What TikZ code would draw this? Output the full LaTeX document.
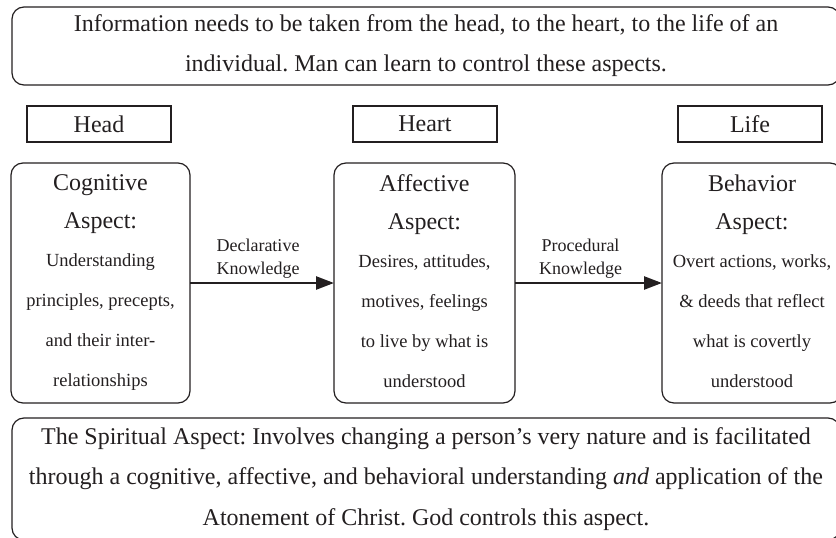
\documentclass[tikz,border=0pt]{standalone}
\usepackage{fontspec}
\setmainfont{Liberation Serif}
\usetikzlibrary{arrows.meta}
\definecolor{ink}{HTML}{231F20}
\frenchspacing
\begin{document}
\begin{tikzpicture}[x=1pt,y=-1pt,
  every node/.style={text=ink, inner sep=0pt, outer sep=0pt},
  panel/.style={draw=ink, line width=1.2pt, rounded corners=12pt, align=center},
  tag/.style={draw=ink, line width=2.6pt, minimum width=144pt, minimum height=36pt,
    font=\fontsize{24}{28}\selectfont},
  aspect/.style={panel, minimum width=179pt, minimum height=240pt,
    font=\fontsize{18.5}{40}\selectfont},
  flow/.style={draw=ink, line width=2.5pt, -{Triangle[length=18pt,width=13pt]}},
  flowlabel/.style={font=\fontsize{18}{23}\selectfont, align=center, above=5pt}
]
\useasboundingbox (0,0) rectangle (836,538);
\clip (0,0) rectangle (836,538);

% introduction banner
\node[panel, minimum width=828pt, minimum height=78pt, font=\fontsize{24}{40}\selectfont]
  (intro) at (426,46)
  {Information needs to be taken from the head, to the heart, to the life of an\\
   individual. Man can learn to control these aspects.};

% head / heart / life tags
\node[tag] (head)  at (99,124)  {Head};
\node[tag] (heart) at (425,124) {Heart};
\node[tag] (life)  at (750,124) {Life};

% the three aspects (a phantom descender keeps the last lines level)
\node[aspect] (cog) at (100.5,283)
  {{\fontsize{24}{40}\selectfont Cognitive}\\[-2pt]
   {\fontsize{24}{40}\selectfont Aspect:}\\[-2pt]
   Understanding\\principles, precepts,\\and their inter-\\relationships};
\node[aspect, minimum width=181pt] (aff) at (424.5,283)
  {{\fontsize{24}{40}\selectfont Affective}\\[-2pt]
   {\fontsize{24}{40}\selectfont Aspect:}\\[-2pt]
   Desires, attitudes,\\motives, feelings\\to live by what is\\understood\vphantom{p}};
\node[aspect, minimum width=180pt] (beh) at (752,283)
  {{\fontsize{24}{40}\selectfont Behavior}\\[-2pt]
   {\fontsize{24}{40}\selectfont Aspect:}\\[-2pt]
   Overt actions, works,\\\& deeds that reflect\\what is covertly\\understood\vphantom{p}};

% knowledge flow between aspects
\draw[flow] (cog) -- node[flowlabel, xshift=-4pt] (decl) {Declarative\\Knowledge} (aff);
\draw[flow] (aff) -- node[flowlabel, xshift=-8pt] (proc) {Procedural\\Knowledge} (beh);

% spiritual aspect
\node[panel, minimum width=828pt, minimum height=122pt, font=\fontsize{24}{40.5}\selectfont]
  (spirit) at (426,479)
  {The Spiritual Aspect: Involves changing a person’s very nature and is facilitated\\
   through a cognitive, affective, and behavioral understanding \emph{and} application of the\\
   Atonement of Christ. God controls this aspect.};
\end{tikzpicture}
\end{document}
